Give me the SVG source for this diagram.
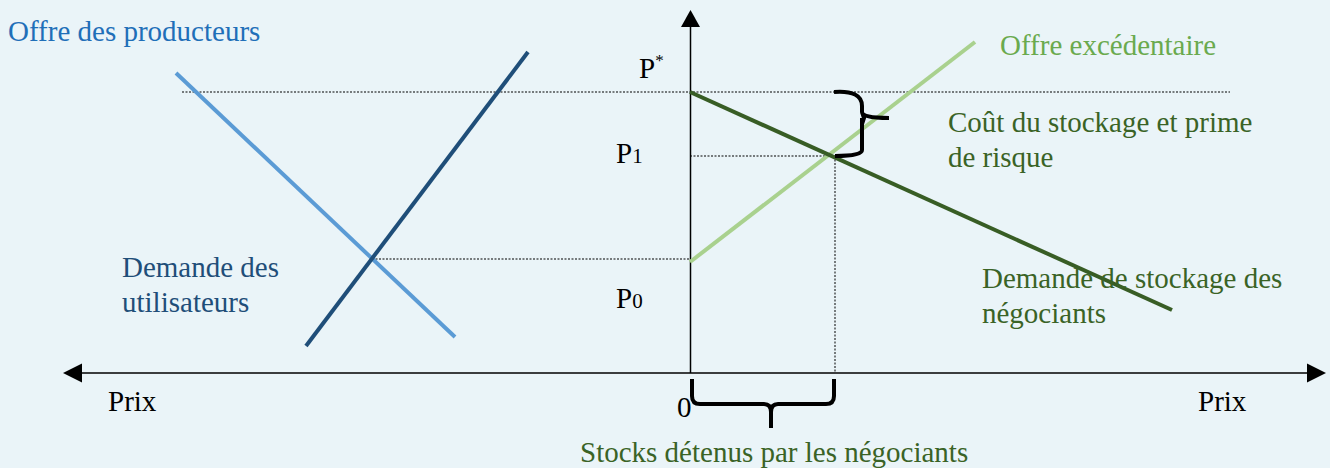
<svg xmlns="http://www.w3.org/2000/svg" width="1330" height="468" viewBox="0 0 1330 468">
<style>
text{font-family:'Liberation Serif','DejaVu Serif',serif;font-size:29px}
.blk{fill:#000}
.lb{fill:#1F6FB8}
.db{fill:#1F4E79}
.lg{fill:#6AAA4E}
.dg{fill:#3A6326}
.dash{stroke:#000;stroke-width:1;stroke-dasharray:2,1.5;fill:none}
.brace{stroke:#000;stroke-width:4;fill:none;stroke-linecap:butt}
</style>
<rect width="1330" height="468" fill="#EAF4F8"/>
<g id="connectors">
<path d="M82,373 L1307,373" stroke="#000" stroke-width="1.5"/>
<path d="M63,373 L82,363.5 L82,382.5 Z" fill="#000"/>
<path d="M1326,373 L1307,363.5 L1307,382.5 Z" fill="#000"/>
<path d="M690.5,373 L690.5,27" stroke="#000" stroke-width="1.5"/>
<path d="M690.5,10 L681,27 L700,27 Z" fill="#000"/>
<path class="dash" d="M182,92 L1230,92"/>
<path class="dash" d="M690,156 L835,156"/>
<path class="dash" d="M835,156 L835,373"/>
<path class="dash" d="M372,259 L690,259"/>
</g>
<g id="courbe-offre-producteurs"><path d="M176,73 L455,337" stroke="#5B9BD5" stroke-width="4"/></g>
<g id="courbe-demande-utilisateurs"><path d="M528,52 L306,346" stroke="#1F4E79" stroke-width="4"/></g>
<g id="courbe-offre-excedentaire"><path d="M690,262 L975,42" stroke="#A9D18E" stroke-width="4"/></g>
<g id="courbe-demande-stockage"><path d="M690,92 L1172,310" stroke="#385D25" stroke-width="4"/></g>
<g id="accolade-cout"><path class="brace" d="M834,92 Q862,90 862,106 L862,112 Q862,118 889,118 M862,118 Q862,118 862,124 L862,150 Q862,156 835,156 M862,112 L864,118 L862,124"/></g>
<g id="accolade-stocks"><path class="brace" d="M692,379 L692,396 Q692,404 700,404 L764,404 Q771,404 771,412 L771,428 M771,412 Q771,404 778,404 L826,404 Q834,404 834,396 L834,379"/></g>
<g id="labels">
<text class="lb" x="8" y="41">Offre des producteurs</text>
<text class="blk" x="639" y="78">P<tspan font-size="17" dy="-12">*</tspan></text>
<text class="blk" x="616" y="163">P<tspan font-size="21">1</tspan></text>
<text class="blk" x="616" y="308">P<tspan font-size="21">0</tspan></text>
<text class="lg" x="1000" y="55">Offre excédentaire</text>
<text class="dg" x="948" y="132">Coût du stockage et prime</text>
<text class="dg" x="948" y="167">de risque</text>
<text class="dg" x="982" y="288">Demande de stockage des</text>
<text class="dg" x="982" y="323">négociants</text>
<text class="db" x="122" y="277">Demande des</text>
<text class="db" x="122" y="312">utilisateurs</text>
<text class="blk" x="108" y="411">Prix</text>
<text class="blk" x="1198" y="411">Prix</text>
<text class="blk" x="677" y="417">0</text>
<text class="dg" x="580" y="462">Stocks détenus par les négociants</text>
</g>
</svg>
